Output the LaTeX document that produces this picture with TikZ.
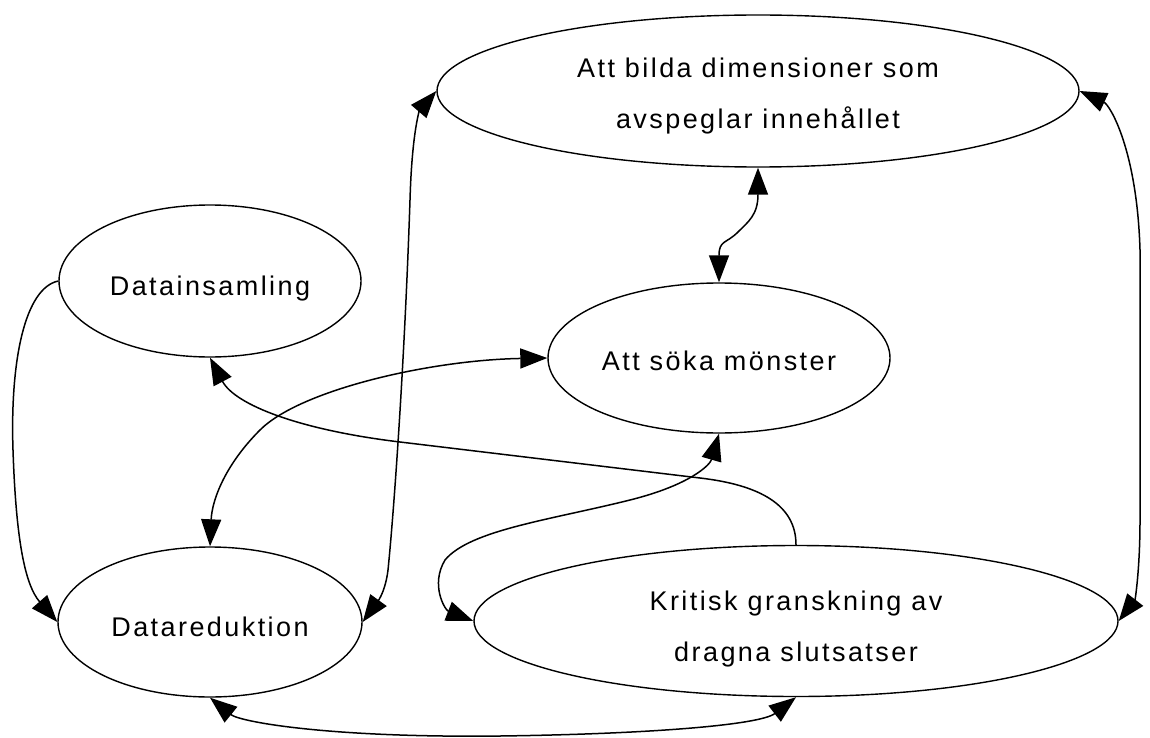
\documentclass[tikz,border=0pt]{standalone}
\usepackage{fontspec}
\setmainfont{Liberation Sans}[LetterSpace=9]
\usetikzlibrary{shapes.geometric, arrows.meta}
\newcommand{\lowr}[1]{\rule{0pt}{#1}}
\begin{document}
\begin{tikzpicture}[x=1pt,y=-1pt,
  st/.style={draw, ellipse, line width=1.4pt, inner sep=0pt, font=\fontsize{27}{51}\selectfont, align=center},
  tip/.tip={Triangle[length=27pt,width=20pt]},
  conn/.style={line width=1.5pt, tip-tip},
  conn1/.style={line width=1.5pt, -tip}]
\fill[white] (0,0) rectangle (1150,738);
\useasboundingbox (0,0) rectangle (1150,738);

\node[st, minimum width=642pt, minimum height=152pt] (bild) at (758,91) {\lowr{29pt}Att bilda dimensioner som\\avspeglar innehållet};
\node[st, minimum width=302pt, minimum height=152pt] (dins) at (210,281) {\lowr{34pt}Datainsamling};
\node[st, minimum width=342pt, minimum height=150pt] (soka) at (719,358) {\lowr{26pt}Att söka mönster};
\node[st, minimum width=304pt, minimum height=150pt] (dred) at (210,622) {\lowr{30pt}Datareduktion};
\node[st, minimum width=644pt, minimum height=151pt] (kri) at (796,621) {\lowr{36pt}Kritisk granskning av\\dragna slutsatser};

\draw[conn1] (dins.west) .. controls (25,288) and (10,360) .. (13,450) .. controls (16,540) and (25,585) .. (dred.west);
\draw[conn] (bild.west) .. controls (420,110) and (412,130) .. (410,200) .. controls (405,350) and (395,500) .. (388,570) .. controls (385,595) and (375,605) .. (dred.east);
\draw[conn] (bild.east) .. controls (1110,105) and (1137,150) .. (1140,250) -- (1140,520) .. controls (1140,570) and (1135,600) .. (kri.east);
\draw[conn] (bild.south) .. controls (758,215) and (748,222) .. (738,232) .. controls (726,244) and (719,240) .. (soka.north);
\draw[conn] (soka.west) .. controls (430,360) and (300,390) .. (260,430) .. controls (225,465) and (212,500) .. (dred.north);
\draw[conn1] (kri.north) .. controls (796,505) and (760,485) .. (700,478) -- (400,442) .. controls (300,430) and (235,405) .. (dins.south);
\draw[conn] (soka.south) .. controls (710,465) and (690,485) .. (630,500) .. controls (550,520) and (470,530) .. (445,560) .. controls (430,585) and (445,610) .. (kri.west);
\draw[conn] (dred.south) .. controls (240,722) and (330,738) .. (500,736) .. controls (650,734) and (760,725) .. (kri.south);
\end{tikzpicture}
\end{document}
